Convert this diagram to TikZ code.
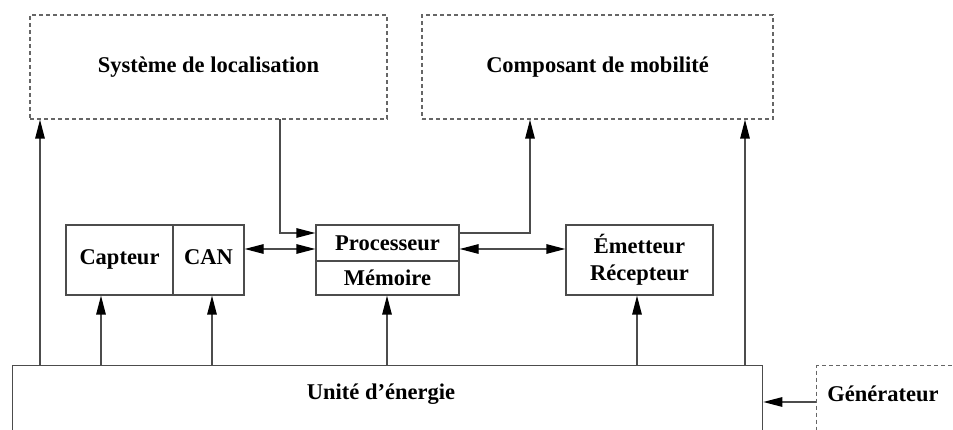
\documentclass[tikz,border=0pt]{standalone}
\usepackage{fontspec}
\setmainfont{Liberation Serif}
\usetikzlibrary{arrows.meta,calc}
\begin{document}
\begin{tikzpicture}[x=1pt,y=-1pt,
  lc/.style={draw=black!70,line width=1.3pt},
  ft/.style={font=\fontsize{22.5}{27}\selectfont\bfseries},
  box/.style={lc,rectangle,inner sep=0pt,ft,align=center},
  dbox/.style={box,draw=black!60,dash pattern=on 4pt off 3pt},
  arr/.style={lc,-{Triangle[length=19pt,width=9.5pt,fill=black,color=black]}},
  darr/.style={lc,{Triangle[length=19pt,width=9.5pt,fill=black,color=black]}-{Triangle[length=19pt,width=9.5pt,fill=black,color=black]}}]
\useasboundingbox (0,0) rectangle (953,430);
% boxes
\node[dbox,minimum width=357pt,minimum height=104pt] (sys) at (208.5,67) {Système de localisation};
\node[dbox,minimum width=351pt,minimum height=104pt] (mob) at (597.5,67) {Composant de mobilité};
\node[box,minimum width=107pt,minimum height=70pt] (cap) at (119.5,260) {\raisebox{6pt}{Capteur}};
\node[box,minimum width=71pt,minimum height=70pt] (can) at (208.5,260) {\raisebox{6pt}{CAN}};
\node[box,minimum width=143pt,minimum height=36pt] (proc) at (387.5,243) {Processeur};
\node[box,minimum width=143pt,minimum height=34pt] (mem) at (387.5,278) {Mémoire};
\node[box,minimum width=147pt,minimum height=70pt] (em) at (639.5,260) {Émetteur\\Récepteur};
\node[box,minimum width=750pt,minimum height=80pt,anchor=north west] (un) at (12,365) {};
\node[ft] (untxt) at (381,394) {Unité d’énergie};
\node[dbox,minimum width=150pt,minimum height=80pt,anchor=north west] (gen) at (816,365) {};
\node[ft] (gentxt) at (883,394) {Générateur};
% power arrows
\coordinate (p1) at (40,365);
\coordinate (p2) at (101,365);
\coordinate (p3) at (212,365);
\coordinate (p4) at (387,365);
\coordinate (p5) at (637,365);
\coordinate (p6) at (745,365);
\draw[arr] (p1) -- (p1 |- sys.south);
\draw[arr] (p2) -- (p2 |- cap.south);
\draw[arr] (p3) -- (p3 |- can.south);
\draw[arr] (p4) -- (p4 |- mem.south);
\draw[arr] (p5) -- (p5 |- em.south);
\draw[arr] (p6) -- (p6 |- mob.south);
% generator
\coordinate (g1) at (816,402);
\draw[arr] (g1) -- (g1 -| un.east);
% system -> processor
\coordinate (s1) at (280,119);
\coordinate (s2) at (280,233);
\draw[arr] (s1) -- (s2) -- (s2 -| proc.west);
% processor -> mobility
\coordinate (m1) at (530,233);
\draw[arr] (m1 -| proc.east) -- (m1) -- (m1 |- mob.south);
% data links
\coordinate (d1) at (244,249);
\draw[darr] (d1 -| can.east) -- (d1 -| proc.west);
\draw[darr] (d1 -| proc.east) -- (d1 -| em.west);
\end{tikzpicture}
\end{document}
